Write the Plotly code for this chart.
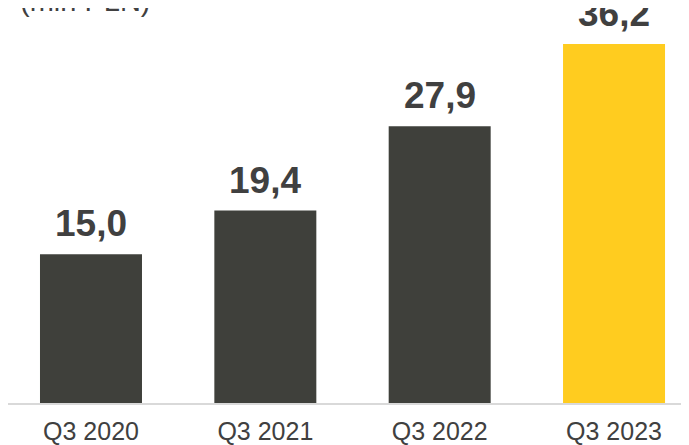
import plotly.graph_objects as go

quarters = ["Q3 2020", "Q3 2021", "Q3 2022", "Q3 2023"]
values = [15.0, 19.4, 27.9, 36.2]
labels = ["15,0", "19,4", "27,9", "36,2"]
bar_colors = ["#3f403b", "#3f403b", "#3f403b", "#ffcc1f"]

fig = go.Figure(go.Bar(
    x=quarters,
    y=values,
    width=0.585,
    marker=dict(color=bar_colors, line=dict(width=0)),
    hoverinfo="x+y",
))

# value labels above bars
annotations = [
    dict(x=q, y=v, text=f"<b>{t}</b>", showarrow=False, xref="x", yref="y",
         yanchor="bottom", yshift=8,
         font=dict(size=37, color="#404040", family="Liberation Sans, Arial, sans-serif"))
    for q, v, t in zip(quarters, values, labels)
]
# unit label, partly cut off at the top of the page
annotations.append(dict(
    text="(mln PLN)", x=0, y=1, xref="paper", yref="paper", xanchor="left", yanchor="bottom",
    xshift=10, yshift=-11, showarrow=False,
    font=dict(size=29, color="#404040", family="Liberation Sans, Arial, sans-serif"),
))

# page body adds an 8px margin, so the figure is sized to fit inside the window
fig.update_layout(
    width=681, height=437,
    margin=dict(t=0, b=42, l=0, r=0),
    paper_bgcolor="white",
    plot_bgcolor="white",
    showlegend=False,
    annotations=annotations,
    font=dict(family="Liberation Sans, Arial, sans-serif", color="#404040"),
    xaxis=dict(
        type="category",
        range=[-0.476, 3.43],
        showgrid=False,
        showline=True,
        linecolor="#d9d9d9",
        linewidth=2,
        ticks="",
        ticklabelstandoff=5,
        tickfont=dict(size=25, color="#404040"),
    ),
    yaxis=dict(
        range=[0, 39.83],
        visible=False,
        showgrid=False,
        zeroline=False,
    ),
)

fig.write_html("out.html")
